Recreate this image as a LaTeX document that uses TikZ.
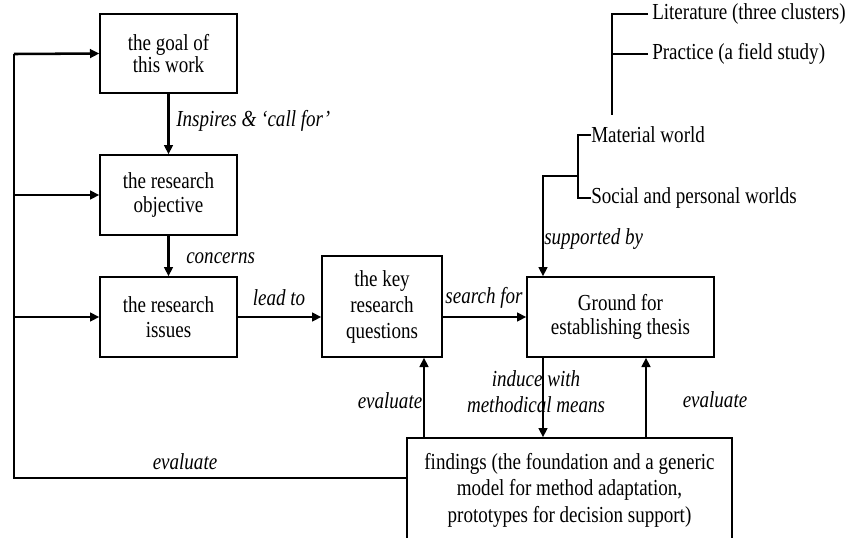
\documentclass[tikz,border=0pt]{standalone}
\usepackage{fontspec}
\setmainfont[FakeStretch=0.83]{Liberation Serif}
\usetikzlibrary{arrows.meta}
\begin{document}
\begin{tikzpicture}[x=0.75pt,y=-0.75pt,
  box/.style={draw, line width=1pt, align=center, inner sep=0pt,
    font=\fontsize{17.2}{18.5}\selectfont},
  flow/.style={line width=1.9pt, -{Triangle[length=7pt,width=6.5pt]}},
  thinline/.style={line width=1pt},
  lbl/.style={font=\itshape\fontsize{17.2}{19.5}\selectfont, inner sep=0pt, align=center},
  item/.style={font=\fontsize{17.2}{16.5}\selectfont, inner sep=0pt, anchor=west}]
\useasboundingbox (0,0) rectangle (847,537);

% main boxes
\node[box, minimum width=137*0.75pt, minimum height=79*0.75pt, font=\fontsize{17.2}{16.5}\selectfont] (goal) at (168.5,53.5) {the goal of\\this work};
\node[box, minimum width=137*0.75pt, minimum height=80*0.75pt, font=\fontsize{17.2}{17.5}\selectfont] (obj) at (168.5,195) {the research\\objective};
\node[box, minimum width=137*0.75pt, minimum height=80*0.75pt] (iss) at (168.5,317) {the research\\issues};
\node[box, minimum width=120*0.75pt, minimum height=101*0.75pt, font=\fontsize{17.2}{19.5}\selectfont] (keyq) at (382,306.5) {the key\\research\\questions};
\node[box, minimum width=187*0.75pt, minimum height=80*0.75pt] (ground) at (620.5,317) {Ground for\\establishing thesis};
\node[box, minimum width=325*0.75pt, minimum height=104*0.75pt, font=\fontsize{17.2}{19.8}\selectfont] (findings) at (569.5,490) {findings (the foundation and a generic\\model for method adaptation,\\prototypes for decision support)};

% sources
\node[item, inner xsep=3pt] (lit) at (648,14) {Literature (three clusters)};
\node[item, inner xsep=3pt] (prac) at (648,54) {Practice (a field study)};
\node[item] (mat) at (591,135) {Material world};
\node[item] (soc) at (591,198) {Social and personal worlds};
\coordinate (litEnd) at (612,115);
\coordinate (sb) at (578,176);

\draw[thinline] (lit.west) -| (litEnd);
\draw[thinline] (prac.west) -- (prac.west -| litEnd);
\draw[thinline] (mat.west) -| (sb) |- (soc.west);
\draw[flow] (sb) -- (sb -| 543,0) -- (ground.north -| 543,0);
\node[lbl, anchor=west] (lsup) at (544,239) {supported by};

% main flow
\draw[flow] (goal) -- (obj);
\node[lbl, anchor=west] (linsp) at (176,121) {Inspires \& ‘call for’};
\draw[flow] (obj) -- (iss);
\node[lbl, anchor=west] (lcon) at (186,258) {concerns};
\draw[flow] (iss.east) -- (keyq.west |- iss.east);
\node[lbl] (llead) at (279,298) {lead to};
\draw[flow] (keyq.east |- ground.west) -- (ground.west);
\node[lbl] (lsearch) at (484,298) {search for};

% induction and evaluation
\draw[flow] (ground.south -| 543,0) -- (findings.north -| 543,0);
\node[lbl] (lind) at (536,392) {induce with\\methodical means};
\draw[flow] (findings.north -| 646,0) -- (ground.south -| 646,0);
\node[lbl] (lev1) at (715,400) {evaluate};
\draw[flow] (findings.north -| 424,0) -- (keyq.south -| 424,0);
\node[lbl] (lev2) at (390,401) {evaluate};

% feedback loop on the left
\coordinate (fbTop) at (14,54);
\coordinate (fbBot) at (14,478);
\draw[thinline] (findings.west |- fbBot) -- (fbBot) -- (fbTop);
\draw[flow] (fbTop) -- (goal.west);
\draw[flow] (fbTop |- obj.west) -- (obj.west);
\draw[flow] (fbTop |- iss.west) -- (iss.west);
\node[lbl] (lev3) at (185,462) {evaluate};
\end{tikzpicture}
\end{document}
